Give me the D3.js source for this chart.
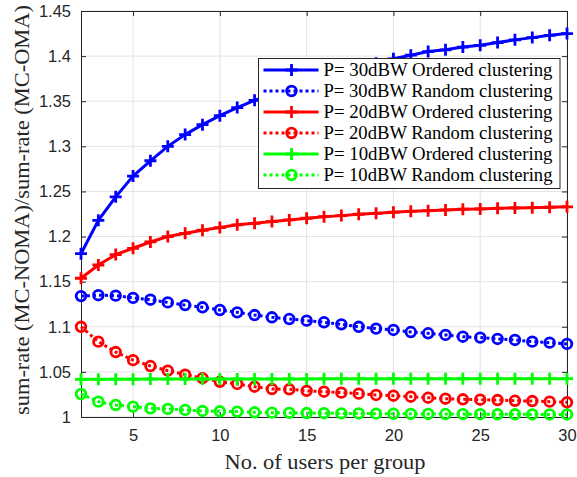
<!DOCTYPE html>
<html>
<head>
<meta charset="utf-8">
<script src="https://cdn.jsdelivr.net/npm/d3@7"></script>
<style>
  body { margin: 0; background: #fff; }
  svg { display: block; }
</style>
</head>
<body>
<svg id="chart" width="577" height="477"></svg>
<script>
// users per group
var users = d3.range(2, 31);

// ratio of sum-rates
var ord30 = [1.181, 1.218, 1.244, 1.267, 1.284, 1.300, 1.313, 1.324, 1.334, 1.343, 1.351, 1.358, 1.364,
  1.370, 1.376, 1.381, 1.386, 1.392, 1.397, 1.401, 1.405, 1.407, 1.410, 1.412, 1.415, 1.418, 1.4205, 1.423, 1.425];
var rnd30 = [1.134, 1.135, 1.1345, 1.132, 1.130, 1.127, 1.124, 1.1216, 1.1186, 1.116, 1.113, 1.1105, 1.1086,
  1.1068, 1.105, 1.1027, 1.100, 1.098, 1.0965, 1.0942, 1.0928, 1.091, 1.089, 1.088, 1.0865, 1.0854, 1.0835, 1.0824, 1.081];
var ord20 = [1.1538, 1.1685, 1.180, 1.187, 1.194, 1.200, 1.2036, 1.207, 1.210, 1.213, 1.2147, 1.2166, 1.2184,
  1.2203, 1.222, 1.2232, 1.2247, 1.2258, 1.227, 1.228, 1.2287, 1.2295, 1.2303, 1.2306, 1.2313, 1.2317, 1.232, 1.2325, 1.233];
var rnd20 = [1.100, 1.0835, 1.072, 1.063, 1.0565, 1.0514, 1.047, 1.043, 1.039, 1.0366, 1.0336, 1.031, 1.0307,
  1.029, 1.028, 1.027, 1.0259, 1.0244, 1.0236, 1.0225, 1.0214, 1.0203, 1.0196, 1.0192, 1.0188, 1.018, 1.0177, 1.017, 1.0163];
var ord10 = [1.0418, 1.0418, 1.0419, 1.0419, 1.042, 1.042, 1.042, 1.0421, 1.0421, 1.0421, 1.0422, 1.0422, 1.0422,
  1.0422, 1.0423, 1.0423, 1.0423, 1.0423, 1.0424, 1.0424, 1.0424, 1.0424, 1.0424, 1.0425, 1.0425, 1.0425, 1.0425, 1.0425, 1.0425];
var rnd10 = [1.0255, 1.017, 1.0133, 1.0114, 1.0096, 1.0089, 1.0078, 1.0067, 1.0063, 1.006, 1.0052, 1.0048, 1.0046,
  1.0044, 1.0042, 1.004, 1.0039, 1.0037, 1.0036, 1.0035, 1.0034, 1.0033, 1.0032, 1.0031, 1.003, 1.003, 1.0029, 1.0028, 1.0028];

var seriesNames = ["P= 30dBW Ordered clustering", "P= 30dBW Random clustering",
  "P= 20dBW Ordered clustering", "P= 20dBW Random clustering",
  "P= 10dBW Ordered clustering", "P= 10dBW Random clustering"];
var seriesValues = [ord30, rnd30, ord20, rnd20, ord10, rnd10];
var seriesColors = ["#0000ff", "#0000ff", "#ff0000", "#ff0000", "#00ff00", "#00ff00"];
var seriesKind = ["ordered", "random", "ordered", "random", "ordered", "random"];

var xTicks = [5, 10, 15, 20, 25, 30];
var yTicks = [1, 1.05, 1.1, 1.15, 1.2, 1.25, 1.3, 1.35, 1.4, 1.45];

var svg = d3.select("#chart"),
  width = +svg.attr("width"),
  height = +svg.attr("height"),
  margin = {top: 11, right: 10, bottom: 60, left: 81},
  w = width - margin.left - margin.right,
  h = height - margin.top - margin.bottom;

var x = d3.scaleLinear().domain([2, 30]).range([0, w]);
var y = d3.scaleLinear().domain([1, 1.45]).range([h, 0]);

var g = svg.append("g").attr("transform", "translate(" + margin.left + "," + margin.top + ")");

// grid
g.append("g").selectAll("line").data(xTicks).enter().append("line")
  .attr("x1", function(d) { return x(d); }).attr("x2", function(d) { return x(d); })
  .attr("y1", 0).attr("y2", h)
  .attr("stroke", "#e3e3e3").attr("stroke-width", 1);
g.append("g").selectAll("line").data(yTicks).enter().append("line")
  .attr("y1", function(d) { return y(d); }).attr("y2", function(d) { return y(d); })
  .attr("x1", 0).attr("x2", w)
  .attr("stroke", "#e3e3e3").attr("stroke-width", 1);

// axes (ticks inside, box on)
var axisColor = "#262626";
var xAxis = g.append("g").attr("transform", "translate(0," + h + ")")
  .call(d3.axisBottom(x).tickValues(xTicks).tickSize(-5).tickPadding(12).tickFormat(d3.format("d")));
var yAxis = g.append("g")
  .call(d3.axisLeft(y).tickValues(yTicks).tickSize(-5).tickPadding(10).tickFormat(function(d) { return String(+d.toFixed(2)); }));
var xTop = g.append("g")
  .call(d3.axisTop(x).tickValues(xTicks).tickSize(-5).tickFormat(""));
var yRight = g.append("g").attr("transform", "translate(" + w + ",0)")
  .call(d3.axisRight(y).tickValues(yTicks).tickSize(-5).tickFormat(""));
[xAxis, yAxis, xTop, yRight].forEach(function(a) {
  a.select(".domain").attr("stroke", axisColor).attr("stroke-width", 1);
  a.selectAll(".tick line").attr("stroke", axisColor);
  a.selectAll("text").attr("fill", axisColor)
    .style("font-family", "'Liberation Sans', Arial, sans-serif").style("font-size", "16.5px");
});

// series
var line = d3.line()
  .x(function(d, i) { return x(users[i]); })
  .y(function(d) { return y(d); });

function plusPath(s) {
  return "M" + (-s) + ",0H" + s + "M0," + (-s) + "V" + s;
}

seriesValues.forEach(function(vals, k) {
  var col = seriesColors[k];
  var sg = g.append("g");
  var p = sg.append("path").datum(vals)
    .attr("d", line).attr("fill", "none").attr("stroke", col).attr("stroke-width", 3);
  if (seriesKind[k] == "random") {
    p.attr("stroke-dasharray", "3,3");
    sg.selectAll("circle").data(vals).enter().append("circle")
      .attr("cx", function(d, i) { return x(users[i]); })
      .attr("cy", function(d) { return y(d); })
      .attr("r", 4.8).attr("fill", "none").attr("stroke", col).attr("stroke-width", 2.8);
  } else {
    sg.selectAll(".mk").data(vals).enter().append("path")
      .attr("transform", function(d, i) { return "translate(" + x(users[i]) + "," + y(d) + ")"; })
      .attr("d", plusPath(6)).attr("stroke", col).attr("stroke-width", 2.8).attr("fill", "none");
  }
});

// legend
var lg = svg.append("g").attr("transform", "translate(258.5,58.5)");
lg.append("rect").attr("width", 301.5).attr("height", 130)
  .attr("fill", "#fff").attr("stroke", axisColor).attr("stroke-width", 1);
seriesNames.forEach(function(name, k) {
  var yy = 11.5 + k * 21;
  var col = seriesColors[k];
  var row = lg.append("g").attr("transform", "translate(0," + yy + ")");
  var ln = row.append("line").attr("x1", 5).attr("x2", 60).attr("y1", 0).attr("y2", 0)
    .attr("stroke", col).attr("stroke-width", 3);
  if (seriesKind[k] == "random") {
    ln.attr("stroke-dasharray", "3,3");
    row.append("circle").attr("cx", 33).attr("cy", 0).attr("r", 4.8)
      .attr("fill", "none").attr("stroke", col).attr("stroke-width", 2.8);
  } else {
    row.append("path").attr("transform", "translate(33,0)").attr("d", plusPath(6))
      .attr("stroke", col).attr("stroke-width", 2.8);
  }
  row.append("text").attr("x", 65).attr("y", 0).attr("dy", "0.35em")
    .attr("textLength", 229).attr("lengthAdjust", "spacingAndGlyphs")
    .style("font-family", "'Liberation Serif', 'Times New Roman', serif").style("font-size", "18px")
    .attr("fill", "#000").text(name);
});

// axis labels
svg.append("text")
  .attr("x", 325).attr("y", 469)
  .attr("text-anchor", "middle")
  .attr("textLength", 201).attr("lengthAdjust", "spacingAndGlyphs")
  .style("font-family", "'Liberation Serif', 'Times New Roman', serif").style("font-size", "21px")
  .attr("fill", axisColor)
  .text("No. of users per group");

svg.append("text")
  .attr("transform", "translate(28.5," + (margin.top + h / 2 - 4) + ") rotate(-90)")
  .attr("text-anchor", "middle")
  .attr("textLength", 410).attr("lengthAdjust", "spacingAndGlyphs")
  .style("font-family", "'Liberation Serif', 'Times New Roman', serif").style("font-size", "21px")
  .attr("fill", axisColor)
  .text("sum-rate (MC-NOMA)/sum-rate (MC-OMA)");
</script>
</body>
</html>
